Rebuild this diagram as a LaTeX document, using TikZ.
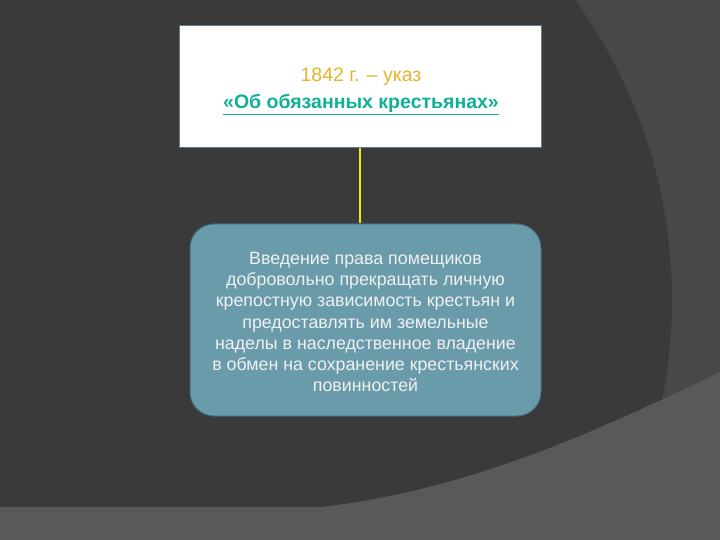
\documentclass[tikz,border=0pt]{standalone}
\usepackage{fontspec}
\setmainfont{Liberation Sans}
\usetikzlibrary{arrows.meta}
\definecolor{bgbase}{RGB}{58,58,58}
\definecolor{bgright}{RGB}{72,72,72}
\definecolor{bgbottom}{RGB}{89,89,89}
\definecolor{boxfill}{RGB}{106,155,170}
\definecolor{boxedge}{RGB}{70,105,120}
\definecolor{topedge}{RGB}{95,125,140}
\definecolor{goldtxt}{RGB}{230,180,40}
\definecolor{tealtxt}{RGB}{16,176,150}
\definecolor{linkyellow}{RGB}{245,230,20}
\tikzset{
  decreebox/.style={draw=topedge, line width=1pt, fill=white, minimum width=362pt, minimum height=122pt, inner sep=0pt},
  effectbox/.style={draw=boxedge, line width=1pt, fill=boxfill, rounded corners=24pt, minimum width=351pt, minimum height=192pt, inner sep=0pt},
  bodytext/.style={text=white!94!black, font=\fontsize{17.8}{21.3}\selectfont, align=center},
  yellowlink/.style={draw=linkyellow, line width=1.8pt, -{Latex[length=3pt,width=3pt]}}
}
\begin{document}
\begin{tikzpicture}[x=1pt,y=-1pt]
\useasboundingbox (0,0) rectangle (720,540);
% background
\fill[bgright] (0,0) rectangle (720,540);
\begin{scope}
\clip (0,0) rectangle (720,540);
\fill[bgbase] (160,300) circle[radius=512];
\end{scope}
\fill[bgbottom] (0,507) -- (321,507) .. controls (470,490) and (600,430) .. (720,372) -- (720,540) -- (0,540) -- cycle;
% nodes
\node[decreebox] (decree) at (360,87) {};
\node[font=\fontsize{19.5}{27}\selectfont, align=center] (decreetext) at (361,91) {\textcolor{goldtxt}{1842 г. – указ}\\\textcolor{tealtxt}{\bfseries\underline{«Об обязанных крестьянах»}}};
\node[effectbox] (effect) at (365.5,320) {};
\node[bodytext] (effecttext) at (365.5,322) {Введение права помещиков\\добровольно прекращать личную\\крепостную зависимость крестьян и\\предоставлять им земельные\\наделы в наследственное владение\\в обмен на сохранение крестьянских\\повинностей};
\coordinate (linktop) at (360,148);
\coordinate (linkbot) at (360,224);
\draw[yellowlink] (linktop) -- (linkbot);
\end{tikzpicture}
\end{document}
